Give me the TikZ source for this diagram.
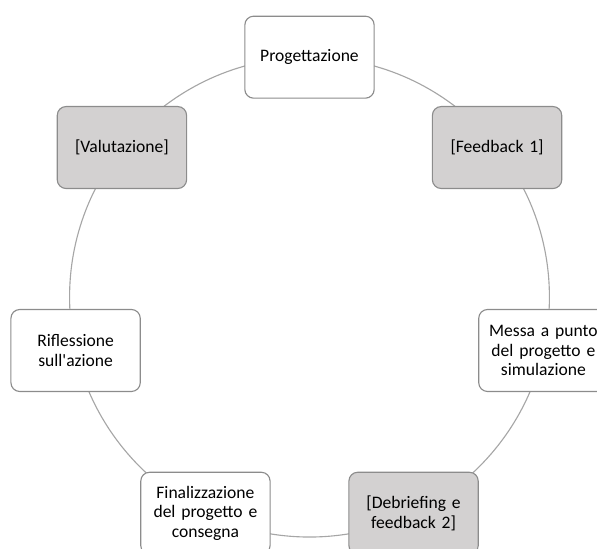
\documentclass[tikz,border=0pt]{standalone}
\usepackage{fontspec}
\setmainfont{Carlito}
\usepackage{tikz}

\definecolor{boxgray}{HTML}{D3D1D1}
\definecolor{edgegray}{HTML}{8C8C8C}
\definecolor{ringgray}{HTML}{A6A6A6}

\begin{document}
\begin{tikzpicture}[
    phase/.style={draw=edgegray, line width=0.8pt, fill=white, rounded corners=0.22cm,
      minimum width=3.2cm, minimum height=2.05cm, text width=3.0cm, align=center,
      font=\fontsize{12.5}{13.7}\selectfont},
    review/.style={phase, fill=boxgray}
  ]
    \useasboundingbox (-7.74,-6.28) rectangle (7.19,7.43);
    \coordinate (CENTER) at (0,0);
    \draw[ringgray, line width=0.8pt] (CENTER) circle (6);

    \node[phase] (PROG) at (90:6) {Progettazione};
    \node[review] (FB1) at (38.57:6) {[Feedback 1]};
    \node[phase] (MESSA) at (-12.86:6) {Messa a punto\\del progetto e\\simulazione};
    \node[review] (DEBR) at (-64.29:6) {[Debriefing e\\feedback 2]};
    \node[phase] (FINAL) at (-115.71:6) {Finalizzazione\\del progetto e\\consegna};
    \node[phase] (RIFL) at (-167.14:6) {Riflessione\\sull\textquotesingle azione};
    \node[review] (VAL) at (141.43:6) {[Valutazione]};
  \end{tikzpicture}
\end{document}
